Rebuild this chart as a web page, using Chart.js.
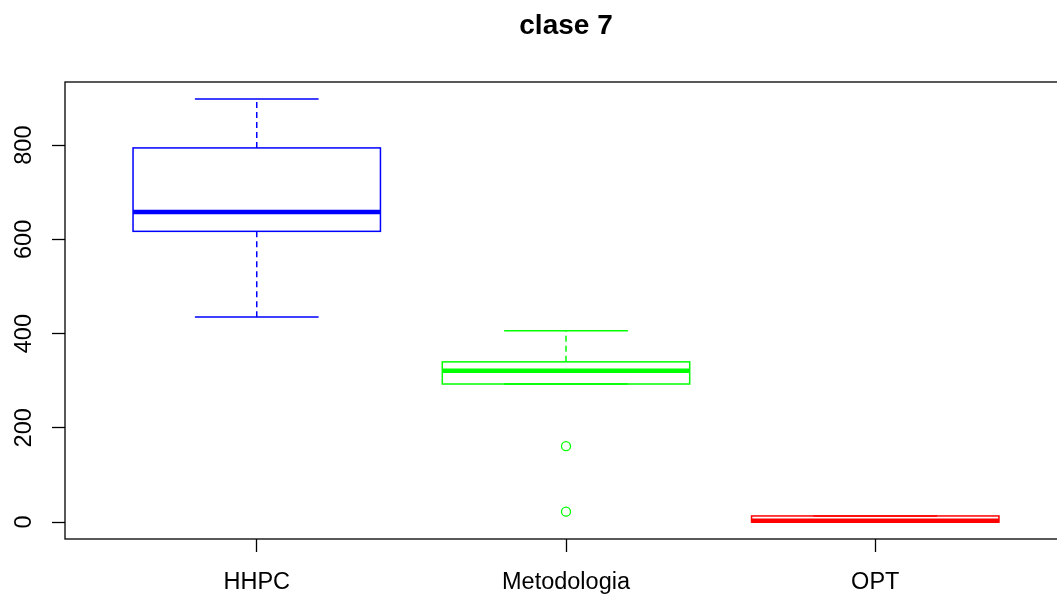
<!DOCTYPE html>
<html>
<head>
<meta charset="utf-8">
<script src="https://cdn.jsdelivr.net/npm/chart.js@4"></script>
<style>
  html, body { margin: 0; padding: 0; background: #fff; overflow: hidden; }
  #wrap { width: 1057px; height: 600px; overflow: hidden; }
</style>
</head>
<body>
<div id="wrap"><canvas id="myChart" width="1132" height="600"></canvas></div>
<script>
// boxplot data
var categories = ['HHPC', 'Metodologia', 'OPT'];
var whiskerLow = [435, 293, 0];
var q1 = [617, 293, 0];
var median = [658, 321, 3];
var q3 = [794, 340, 13];
var whiskerHigh = [898, 406, 13];
var outlierCat = [2, 2];
var outlierVals = [161, 22];
var colors = ['#0000ff', '#00ff00', '#ff0000'];
var yTicks = [0, 200, 400, 600, 800];

var font = "'Liberation Sans', Arial, sans-serif";

var boxPlugin = {
  id: 'boxes',
  beforeDatasetsDraw: function (chart) {
    var c = chart.ctx, a = chart.chartArea;
    var xs = chart.scales.x, ys = chart.scales.y;
    c.save();
    // frame
    c.strokeStyle = '#000';
    c.lineWidth = 1.3;
    c.strokeRect(a.left, a.top, a.right - a.left, a.bottom - a.top);

    for (var i = 0; i < categories.length; i++) {
      var cx = xs.getPixelForValue(i + 1);
      var half = xs.getPixelForValue(i + 1.4) - cx;
      var cap = half / 2;
      var yLo = ys.getPixelForValue(whiskerLow[i]);
      var yQ1 = ys.getPixelForValue(q1[i]);
      var yMed = ys.getPixelForValue(median[i]);
      var yQ3 = ys.getPixelForValue(q3[i]);
      var yHi = ys.getPixelForValue(whiskerHigh[i]);
      c.strokeStyle = colors[i];
      c.lineWidth = 1.5;

      // whiskers
      c.setLineDash([6, 4]);
      c.beginPath();
      if (whiskerHigh[i] > q3[i]) { c.moveTo(cx, yQ3); c.lineTo(cx, yHi); }
      if (whiskerLow[i] < q1[i]) { c.moveTo(cx, yQ1); c.lineTo(cx, yLo); }
      c.stroke();
      c.setLineDash([]);

      // staples
      c.beginPath();
      c.moveTo(cx - cap, yHi); c.lineTo(cx + cap, yHi);
      c.moveTo(cx - cap, yLo); c.lineTo(cx + cap, yLo);
      c.stroke();

      // box
      c.strokeRect(cx - half, yQ3, 2 * half, yQ1 - yQ3);

      // median
      c.lineWidth = 4.5;
      c.beginPath();
      c.moveTo(cx - half, yMed); c.lineTo(cx + half, yMed);
      c.stroke();
    }
    c.restore();
  }
};

var ctx = document.getElementById('myChart').getContext('2d');
new Chart(ctx, {
  type: 'scatter',
  data: {
    datasets: [{
      label: 'outliers',
      data: outlierVals.map(function (v, k) { return { x: outlierCat[k], y: v }; }),
      pointStyle: 'circle',
      pointRadius: 4.5,
      pointHoverRadius: 4.5,
      borderColor: colors[1],
      backgroundColor: 'rgba(0,0,0,0)',
      borderWidth: 1.3
    }]
  },
  options: {
    responsive: false,
    animation: false,
    devicePixelRatio: 1,
    layout: { padding: { left: 0, right: 65, top: 0, bottom: 0 } },
    plugins: {
      legend: { display: false },
      tooltip: { enabled: false },
      title: {
        display: true,
        fullSize: false, // centre over the plot box, as R does
        text: 'clase 7',
        color: '#000',
        font: { family: font, size: 28, weight: 'bold' },
        padding: { top: 9, bottom: 39.4 }
      }
    },
    scales: {
      x: {
        type: 'linear',
        min: 0.38,
        max: 3.62,
        afterBuildTicks: function (s) { s.ticks = [1, 2, 3].map(function (v) { return { value: v }; }); },
        afterFit: function (s) { s.height = 61; },
        border: { display: false },
        grid: { drawOnChartArea: false, drawTicks: true, tickLength: 13, tickColor: '#000', tickWidth: 1.3 },
        ticks: {
          color: '#000',
          padding: 16,
          maxRotation: 0,
          autoSkip: false,
          font: { family: font, size: 23.5 },
          callback: function (v) { return categories[v - 1]; }
        }
      },
      y: {
        type: 'linear',
        min: -35.9,
        max: 933.9,
        afterBuildTicks: function (s) { s.ticks = yTicks.map(function (v) { return { value: v }; }); },
        afterFit: function (s) { s.width = 65; },
        border: { display: false },
        grid: { drawOnChartArea: false, drawTicks: true, tickLength: 13, tickColor: '#000', tickWidth: 1.3 },
        ticks: {
          color: '#000',
          padding: 8,
          minRotation: 90,
          maxRotation: 90,
          crossAlign: 'center',
          font: { family: font, size: 23.5 }
        }
      }
    }
  },
  plugins: [boxPlugin]
});
</script>
</body>
</html>
